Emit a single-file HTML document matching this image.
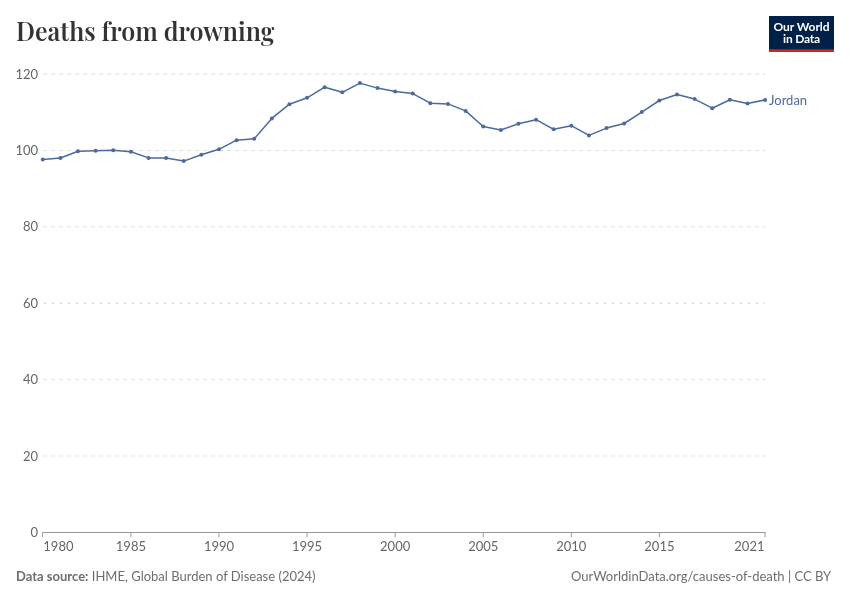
<!DOCTYPE html>
<html><head><meta charset="utf-8">
<style>
html,body{margin:0;padding:0;background:#fff;}
body{width:850px;height:600px;overflow:hidden;position:relative;font-family:"Lato","Liberation Sans",sans-serif;}
h1{will-change:transform;position:absolute;left:16px;top:15.5px;margin:0;font-family:"Playfair Display","Liberation Serif",serif;font-weight:600;font-size:25px;line-height:1.2;color:#333;letter-spacing:0;transform:scaleY(1.05);transform-origin:0 24.7px;}
.logo{will-change:transform;position:absolute;left:769px;top:16px;width:65px;height:36px;background:#002147;box-sizing:border-box;white-space:nowrap;color:#fff;font-weight:700;font-size:12px;line-height:12px;text-align:center;padding-top:5px;letter-spacing:-0.2px;}
svg{position:absolute;left:0;top:0;will-change:transform;}
.grid line{stroke:#ddd;stroke-width:1;stroke-dasharray:4,4;}
.ylab text{fill:#666;font-size:13px;text-anchor:end;dominant-baseline:central;}
.xlab text{fill:#666;font-size:13px;}
.foot{will-change:transform;position:absolute;top:568px;font-size:13px;color:#6e6e6e;}
</style></head><body>
<h1>Deaths from drowning</h1>
<div class="logo"><span style="letter-spacing:-0.05px">Our World</span><br>in Data</div>
<svg width="850" height="600" viewBox="0 0 850 600">
<g class="grid">
<line x1="43" x2="765.5" y1="456.0" y2="456.0"/>
<line x1="43" x2="765.5" y1="379.6" y2="379.6"/>
<line x1="43" x2="765.5" y1="303.2" y2="303.2"/>
<line x1="43" x2="765.5" y1="226.8" y2="226.8"/>
<line x1="43" x2="765.5" y1="150.4" y2="150.4"/>
<line x1="43" x2="765.5" y1="74.0" y2="74.0"/>
</g>
<g class="ylab">
<text x="38" y="532.4" dy="-0.4">0</text>
<text x="38" y="456.0" dy="-0.4">20</text>
<text x="38" y="379.6" dy="-0.4">40</text>
<text x="38" y="303.2" dy="-0.4">60</text>
<text x="38" y="226.8" dy="-0.4">80</text>
<text x="38" y="150.4" dy="-0.4">100</text>
<text x="38" y="74.0" dy="-0.4">120</text>
</g>
<line x1="42.5" x2="765.5" y1="532.5" y2="532.5" stroke="#999" stroke-width="1"/>
<g stroke="#999" stroke-width="1">
<line x1="42.5" x2="42.5" y1="532.5" y2="537.3"/>
<line x1="765" x2="765" y1="532.5" y2="537.3"/>
<line x1="130.89" x2="130.89" y1="532.4" y2="537.3"/>
<line x1="218.97" x2="218.97" y1="532.4" y2="537.3"/>
<line x1="307.06" x2="307.06" y1="532.4" y2="537.3"/>
<line x1="395.14" x2="395.14" y1="532.4" y2="537.3"/>
<line x1="483.23" x2="483.23" y1="532.4" y2="537.3"/>
<line x1="571.31" x2="571.31" y1="532.4" y2="537.3"/>
<line x1="659.4" x2="659.4" y1="532.4" y2="537.3"/>
</g>
<g class="xlab">
<text x="43.3" y="550.5">1980</text>
<text x="130.89" y="550.5" text-anchor="middle">1985</text>
<text x="218.97" y="550.5" text-anchor="middle">1990</text>
<text x="307.06" y="550.5" text-anchor="middle">1995</text>
<text x="395.14" y="550.5" text-anchor="middle">2000</text>
<text x="483.23" y="550.5" text-anchor="middle">2005</text>
<text x="571.31" y="550.5" text-anchor="middle">2010</text>
<text x="659.4" y="550.5" text-anchor="middle">2015</text>
<text x="764.5" y="550.5" text-anchor="end">2021</text>
</g>
<path d="M42.8,159.4 L60.42,158.0 L78.03,151.2 L95.65,150.8 L113.27,150.2 L130.89,151.7 L148.5,157.9 L166.12,158.0 L183.74,161.1 L201.35,154.7 L218.97,149.3 L236.59,140.2 L254.2,138.8 L271.82,118.4 L289.44,104.2 L307.06,97.8 L324.67,87.2 L342.29,92.3 L359.91,83.1 L377.52,88.1 L395.14,91.5 L412.76,93.6 L430.38,103.2 L447.99,103.9 L465.61,110.9 L483.23,126.5 L500.84,130.0 L518.46,123.7 L536.08,119.7 L553.7,129.3 L571.31,125.7 L588.93,135.4 L606.55,128.1 L624.16,123.5 L641.78,112.1 L659.4,100.5 L677.01,94.5 L694.63,99.1 L712.25,108.2 L729.87,99.8 L747.48,103.5 L765.1,99.9" fill="none" stroke="#4c6a9c" stroke-width="1.5" stroke-linejoin="round"/>
<g fill="#4c6a9c">
<circle cx="42.8" cy="159.4" r="2"/>
<circle cx="60.42" cy="158.0" r="2"/>
<circle cx="78.03" cy="151.2" r="2"/>
<circle cx="95.65" cy="150.8" r="2"/>
<circle cx="113.27" cy="150.2" r="2"/>
<circle cx="130.89" cy="151.7" r="2"/>
<circle cx="148.5" cy="157.9" r="2"/>
<circle cx="166.12" cy="158.0" r="2"/>
<circle cx="183.74" cy="161.1" r="2"/>
<circle cx="201.35" cy="154.7" r="2"/>
<circle cx="218.97" cy="149.3" r="2"/>
<circle cx="236.59" cy="140.2" r="2"/>
<circle cx="254.2" cy="138.8" r="2"/>
<circle cx="271.82" cy="118.4" r="2"/>
<circle cx="289.44" cy="104.2" r="2"/>
<circle cx="307.06" cy="97.8" r="2"/>
<circle cx="324.67" cy="87.2" r="2"/>
<circle cx="342.29" cy="92.3" r="2"/>
<circle cx="359.91" cy="83.1" r="2"/>
<circle cx="377.52" cy="88.1" r="2"/>
<circle cx="395.14" cy="91.5" r="2"/>
<circle cx="412.76" cy="93.6" r="2"/>
<circle cx="430.38" cy="103.2" r="2"/>
<circle cx="447.99" cy="103.9" r="2"/>
<circle cx="465.61" cy="110.9" r="2"/>
<circle cx="483.23" cy="126.5" r="2"/>
<circle cx="500.84" cy="130.0" r="2"/>
<circle cx="518.46" cy="123.7" r="2"/>
<circle cx="536.08" cy="119.7" r="2"/>
<circle cx="553.7" cy="129.3" r="2"/>
<circle cx="571.31" cy="125.7" r="2"/>
<circle cx="588.93" cy="135.4" r="2"/>
<circle cx="606.55" cy="128.1" r="2"/>
<circle cx="624.16" cy="123.5" r="2"/>
<circle cx="641.78" cy="112.1" r="2"/>
<circle cx="659.4" cy="100.5" r="2"/>
<circle cx="677.01" cy="94.5" r="2"/>
<circle cx="694.63" cy="99.1" r="2"/>
<circle cx="712.25" cy="108.2" r="2"/>
<circle cx="729.87" cy="99.8" r="2"/>
<circle cx="747.48" cy="103.5" r="2"/>
<circle cx="765.1" cy="99.9" r="2"/>
</g>
<rect x="769" y="49.3" width="65" height="2.7" fill="#ce261e"/>
<text x="769.0" y="104.7" fill="#4c6a9c" font-size="13">Jordan</text>
</svg>
<div class="foot" style="left:16px;"><b>Data source:</b> IHME, Global Burden of Disease (2024)</div>
<div class="foot" style="right:19px;">OurWorldinData.org/causes-of-death | CC BY</div>
</body></html>
